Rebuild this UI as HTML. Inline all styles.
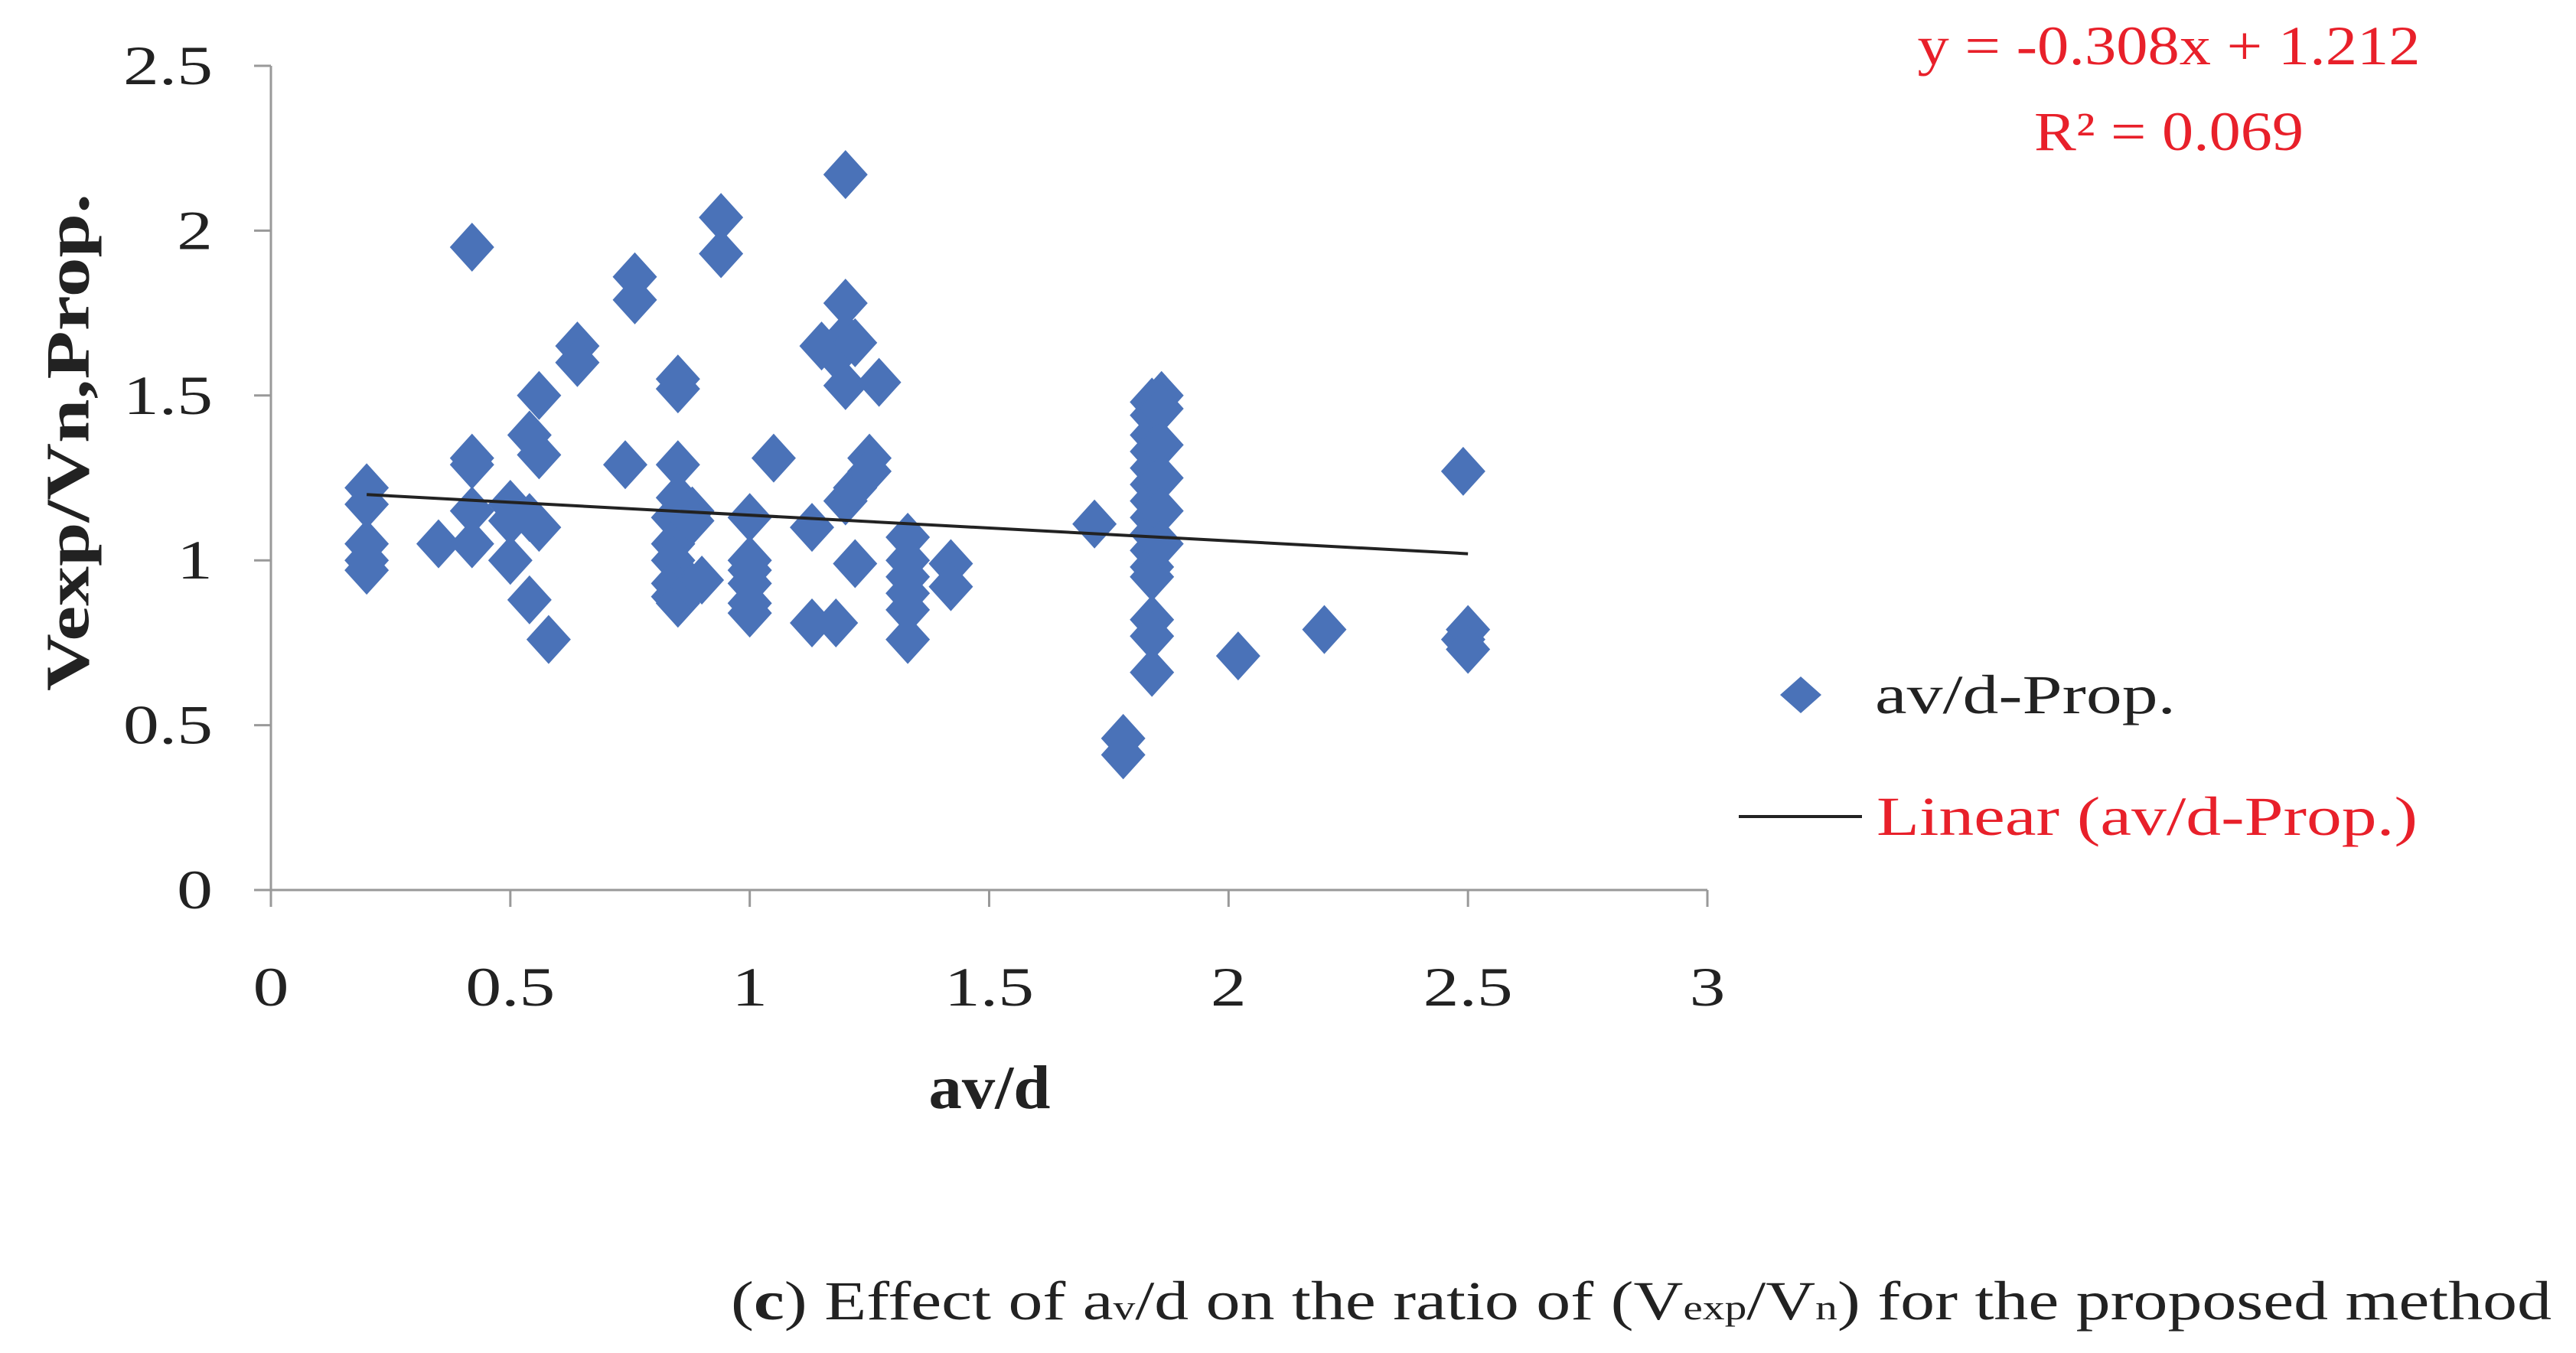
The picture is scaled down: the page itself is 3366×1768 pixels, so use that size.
<!DOCTYPE html>
<html><head><meta charset="utf-8"><style>
body{margin:0;background:#fff}
svg{display:block}
text{font-family:"Liberation Serif",serif}
</style></head><body>
<svg id="chart" width="3366" height="1768" viewBox="0 0 3366 1768">
<g id="axes"></g>
<g id="marks"></g>
<g id="trend"></g>
<text x="97" y="578" transform="rotate(-90 97 578)" text-anchor="middle" dominant-baseline="middle" font-size="80" font-weight="bold" fill="#222" textLength="650" lengthAdjust="spacingAndGlyphs">Vexp/Vn,Prop.</text>
<text x="1293" y="1448" text-anchor="middle" font-size="80" font-weight="bold" fill="#222" textLength="159" lengthAdjust="spacingAndGlyphs">av/d</text>
<text x="2834" y="84" text-anchor="middle" font-size="72" fill="#e8202a" textLength="657" lengthAdjust="spacingAndGlyphs">y = -0.308x + 1.212</text>
<text x="2834" y="196" text-anchor="middle" font-size="72" fill="#e8202a" textLength="352" lengthAdjust="spacingAndGlyphs">R² = 0.069</text>
<path d="M2353 884 L2380 908 L2353 932 L2326 908 Z" fill="#4a72b8"/>
<text x="2450" y="932" font-size="72" fill="#222" textLength="393" lengthAdjust="spacingAndGlyphs">av/d-Prop.</text>
<line x1="2272" y1="1067" x2="2433" y2="1067" stroke="#222" stroke-width="4"/>
<text x="2452" y="1091" font-size="72" fill="#e8202a" textLength="707" lengthAdjust="spacingAndGlyphs">Linear (av/d-Prop.)</text>
<text x="955" y="1724" font-size="72" fill="#222" textLength="2379" lengthAdjust="spacingAndGlyphs">(<tspan font-weight="bold">c</tspan>) Effect of a<tspan font-size="46">v</tspan>/d on the ratio of (V<tspan font-size="46">exp</tspan>/V<tspan font-size="46">n</tspan>) for the proposed method</text>
</svg>
<script>
const xTicks=[0,0.5,1,1.5,2,2.5,3];
const yTicks=[0,0.5,1,1.5,2,2.5];
const xTickLabels=["0","0.5","1","1.5","2","2.5","3"];
const yTickLabels=["0","0.5","1","1.5","2","2.5"];
const xs=[0.2,0.2,0.2,0.2,0.2,0.35,0.42,0.42,0.42,0.42,0.42,0.5,0.5,0.5,0.54,0.54,0.54,0.56,0.56,0.56,0.58,0.64,0.64,0.74,0.76,0.76,
0.84,0.84,0.84,0.84,0.84,0.85,0.85,0.85,0.85,0.85,0.88,0.88,0.88,0.9,0.94,0.94,1,1,1,1,1,1,1.05,1.13,1.13,1.15,1.18,1.18,
1.2,1.2,1.2,1.2,1.2,1.22,1.22,1.22,1.25,1.25,1.27,1.33,1.33,1.33,1.33,1.33,1.33,1.42,1.42,1.72,1.78,1.78,
1.84,1.84,1.84,1.84,1.84,1.84,1.84,1.84,1.84,1.84,1.84,1.84,1.84,1.84,1.84,1.86,1.86,1.86,1.86,1.86,1.86,2.02,2.2,2.49,2.49,2.5,2.5];
const ys=[1.22,1.17,1.05,1.0,0.97,1.05,1.95,1.31,1.29,1.15,1.05,1.17,1.12,1.0,1.38,0.88,1.13,1.5,1.32,1.1,0.76,1.65,1.6,1.29,1.86,1.79,
1.13,1.05,1.0,0.93,0.89,1.55,1.52,1.29,1.19,0.87,1.15,1.12,0.92,0.94,2.04,1.93,1.13,1.0,0.97,0.93,0.87,0.84,1.31,0.81,1.1,1.65,1.62,0.81,
2.17,1.78,1.68,1.53,1.18,1.66,0.99,1.22,1.31,1.27,1.54,1.07,1.0,0.95,0.9,0.85,0.76,0.99,0.92,1.11,0.46,0.41,
1.48,1.44,1.38,1.33,1.28,1.23,1.18,1.13,1.08,1.03,0.98,0.95,0.82,0.77,0.66,1.5,1.46,1.35,1.25,1.15,1.05,0.71,0.79,1.27,0.76,0.79,0.73];
const trendSlope=-0.078, trendIntercept=1.215, trendRange=[0.2,2.5];
const NS="http://www.w3.org/2000/svg";
const X=v=>354+v*(2231-354)/3;
const Y=v=>1163-v*(1163-86)/2.5;
function mk(tag,attrs,parent){const e=document.createElementNS(NS,tag);for(const k in attrs)e.setAttribute(k,attrs[k]);parent.appendChild(e);return e;}
function stretch(el,f){const w=el.getComputedTextLength();el.setAttribute('textLength',w*f);el.setAttribute('lengthAdjust','spacingAndGlyphs');}
const axes=document.getElementById('axes');
let a=mk('line',{x1:X(0),y1:Y(0),x2:X(0),y2:Y(2.5),stroke:'#999','stroke-width':3},axes);


a=mk('line',{x1:X(0)-22,y1:Y(0),x2:X(3),y2:Y(0),stroke:'#999','stroke-width':3},axes);


yTicks.forEach((v,i)=>{
 const t=mk('line',{x1:X(0)-22,y1:Y(v),x2:X(0),y2:Y(v),stroke:'#999','stroke-width':3},axes);
 
 
 const l=mk('text',{x:278,y:Y(v)+24,'text-anchor':'end','font-size':72,fill:'#222'},axes);
 l.textContent=yTickLabels[i];
 
 
 stretch(l,1.3);
});
xTicks.forEach((v,i)=>{
 const t=mk('line',{x1:X(v),y1:Y(0),x2:X(v),y2:Y(0)+22,stroke:'#999','stroke-width':3},axes);
 
 
 const l=mk('text',{x:X(v),y:1314,'text-anchor':'middle','font-size':72,fill:'#222'},axes);
 l.textContent=xTickLabels[i];
 
 
 stretch(l,1.3);
});
const marks=document.getElementById('marks');
xs.forEach((x,i)=>{
 const cx=X(x),cy=Y(ys[i]);
 const p=mk('path',{d:`M${cx} ${cy-32} L${cx+29} ${cy} L${cx} ${cy+32} L${cx-29} ${cy} Z`,fill:'#4a72b8'},marks);
 
 
});
const tl=mk('line',{x1:X(trendRange[0]),y1:Y(trendSlope*trendRange[0]+trendIntercept),x2:X(trendRange[1]),y2:Y(trendSlope*trendRange[1]+trendIntercept),stroke:'#222','stroke-width':4},document.getElementById('trend'));


</script>
</body></html>
